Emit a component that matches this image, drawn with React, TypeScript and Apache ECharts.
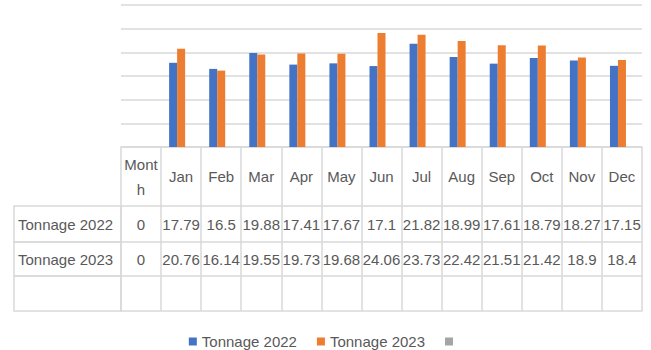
import { useEffect, useRef } from 'react';
import * as echarts from 'echarts';

// Categories of the chart and the data-table columns
const months = ['Month', 'Jan', 'Feb', 'Mar', 'Apr', 'May', 'Jun', 'Jul', 'Aug', 'Sep', 'Oct', 'Nov', 'Dec'];

// Monthly tonnage per year
const tonnage2022 = [0, 17.79, 16.5, 19.88, 17.41, 17.67, 17.1, 21.82, 18.99, 17.61, 18.79, 18.27, 17.15];
const tonnage2023 = [0, 20.76, 16.14, 19.55, 19.73, 19.68, 24.06, 23.73, 22.42, 21.51, 21.42, 18.9, 18.4];
// Third (empty) series kept in the table and legend
const blankSeries: (number | null)[] = [null, null, null, null, null, null, null, null, null, null, null, null, null];

const seriesNames = ['Tonnage 2022', 'Tonnage 2023', ' '];
const seriesColors = ['#4472C4', '#ED7D31', '#A5A5A5'];

// Value axis range
const yMin = 0;
const yMax = 30;
const yStep = 5;

const BORDER = '#D9D9D9';
const TEXT = '#595959';
const FONT = '"Liberation Sans", Arial, sans-serif';
const FONT_SIZE = 15;

// Heights of the data-table rows: header, 2022, 2023, blank
const rowHeights = [59, 36, 34, 35];
// Width of the row-header column left of the plot
const headerColWidth = 107;

const rowLabels = (values: (number | null)[]) => values.map((v) => (v == null ? '' : String(v)));

function tableRowAxis(offset: number, height: number, labels: string[], name: string | null) {
  const axis: any = {
    type: 'category',
    gridIndex: 0,
    position: 'bottom',
    offset,
    data: labels,
    boundaryGap: true,
    axisLine: { show: true, lineStyle: { color: BORDER, width: 1.5 } },
    axisTick: {
      show: height > 0,
      length: height,
      interval: 0,
      lineStyle: { color: BORDER, width: 1.5 },
    },
    axisLabel: {
      show: height > 0,
      interval: 0,
      margin: height / 2,
      verticalAlign: 'middle',
      align: 'center',
      color: TEXT,
      fontFamily: FONT,
      fontSize: FONT_SIZE,
      lineHeight: 25,
      width: 38,
      overflow: 'breakAll',
      hideOverlap: false,
    },
    splitLine: { show: false },
  };
  if (name != null) {
    // Row header cell: a bordered box holding the series name
    axis.name = `{cell|${name}}`;
    axis.nameLocation = 'start';
    axis.nameGap = 0;
    axis.nameMoveOverlap = false;
    axis.nameTextStyle = {
      align: 'right',
      verticalAlign: 'top',
      rich: {
        cell: {
          color: TEXT,
          fontFamily: FONT,
          fontSize: FONT_SIZE,
          align: 'left',
          width: headerColWidth - 4,
          height: height,
          lineHeight: height,
          padding: [0, 0, 0, 4],
          borderColor: BORDER,
          borderWidth: 1.5,
        },
      },
    };
  }
  return axis;
}

export default function App() {
  const ref = useRef<HTMLDivElement>(null);

  useEffect(() => {
    if (!ref.current) return;
    const chart = echarts.init(ref.current, null, { renderer: 'svg' });

    const offsets: number[] = [0];
    rowHeights.forEach((h, i) => offsets.push(offsets[i] + h));

    const xAxes = [
      tableRowAxis(offsets[0], rowHeights[0], months, null),
      tableRowAxis(offsets[1], rowHeights[1], rowLabels(tonnage2022), seriesNames[0]),
      tableRowAxis(offsets[2], rowHeights[2], rowLabels(tonnage2023), seriesNames[1]),
      tableRowAxis(offsets[3], rowHeights[3], rowLabels(blankSeries), seriesNames[2]),
      tableRowAxis(offsets[4], 0, months, null),
    ];

    const seriesData = [tonnage2022, tonnage2023, blankSeries];

    chart.setOption({
      animation: false,
      backgroundColor: '#FFFFFF',
      grid: {
        left: 121,
        top: 5,
        width: 521,
        height: 142,
        containLabel: false,
        outerBoundsMode: 'none',
      },
      legend: {
        show: true,
        left: 'center',
        top: 334,
        padding: 0,
        icon: 'rect',
        itemWidth: 8,
        itemHeight: 8,
        itemGap: 20,
        textStyle: { color: TEXT, fontFamily: FONT, fontSize: FONT_SIZE },
        data: seriesNames,
      },
      xAxis: xAxes,
      yAxis: {
        type: 'value',
        min: yMin,
        max: yMax,
        interval: yStep,
        axisLabel: { show: false },
        axisLine: { show: false },
        axisTick: { show: false },
        splitLine: { show: true, lineStyle: { color: BORDER, width: 1.5 } },
      },
      series: seriesData.map((data, i) => ({
        type: 'bar',
        name: seriesNames[i],
        xAxisIndex: 0,
        data,
        barWidth: 8,
        barGap: '0%',
        itemStyle: { color: seriesColors[i] },
      })),
    });

    return () => chart.dispose();
  }, []);

  return (
    <div
      ref={ref}
      style={{ position: 'absolute', left: 0, top: 0, width: 651, height: 350, background: '#fff' }}
    />
  );
}
